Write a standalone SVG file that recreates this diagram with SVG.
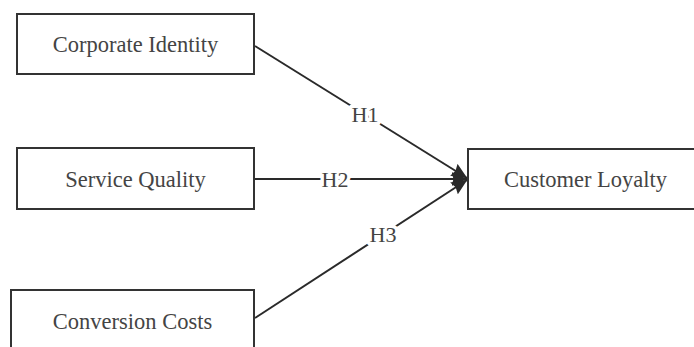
<svg xmlns="http://www.w3.org/2000/svg" width="694" height="347" viewBox="0 0 694 347">
<style>
.box{fill:#fff;stroke:#333;stroke-width:2}
.t{font-family:"Liberation Serif","Times New Roman",serif;font-size:22.5px;fill:#444;text-anchor:middle}
.lbl{font-family:"Liberation Serif","Times New Roman",serif;font-size:22px;fill:#444;text-anchor:middle;stroke:#fff;stroke-width:7px;paint-order:stroke;stroke-linejoin:round}
.c{stroke:#2a2a2a;stroke-width:2;fill:none;marker-end:url(#ah)}
</style>
<defs>
<marker id="ah" viewBox="0 0 16 14" refX="15.5" refY="7" markerWidth="16" markerHeight="14" markerUnits="userSpaceOnUse" orient="auto">
<path d="M0,0 L16,7 L0,14 L2,7 Z" fill="#2a2a2a"/>
</marker>
</defs>
<rect width="694" height="347" fill="#fff"/>
<g id="connectors">
<line class="c" x1="255" y1="46" x2="467" y2="178"/>
<line class="c" x1="255" y1="179" x2="467" y2="179"/>
<line class="c" x1="255" y1="318" x2="467" y2="180"/>
<text class="lbl" x="365" y="122">H1</text>
<text class="lbl" x="335" y="187">H2</text>
<text class="lbl" x="383" y="242">H3</text>
</g>
<g id="corporate-identity">
<rect class="box" x="17" y="14" width="237" height="60"/>
<text class="t" x="135.5" y="52">Corporate Identity</text>
</g>
<g id="service-quality">
<rect class="box" x="17" y="148" width="237" height="61"/>
<text class="t" x="135.5" y="187">Service Quality</text>
</g>
<g id="conversion-costs">
<rect class="box" x="11" y="290" width="243" height="62"/>
<text class="t" x="132.5" y="329">Conversion Costs</text>
</g>
<g id="customer-loyalty">
<rect class="box" x="468" y="149" width="234" height="60"/>
<text class="t" x="585.5" y="187">Customer Loyalty</text>
</g>
</svg>
